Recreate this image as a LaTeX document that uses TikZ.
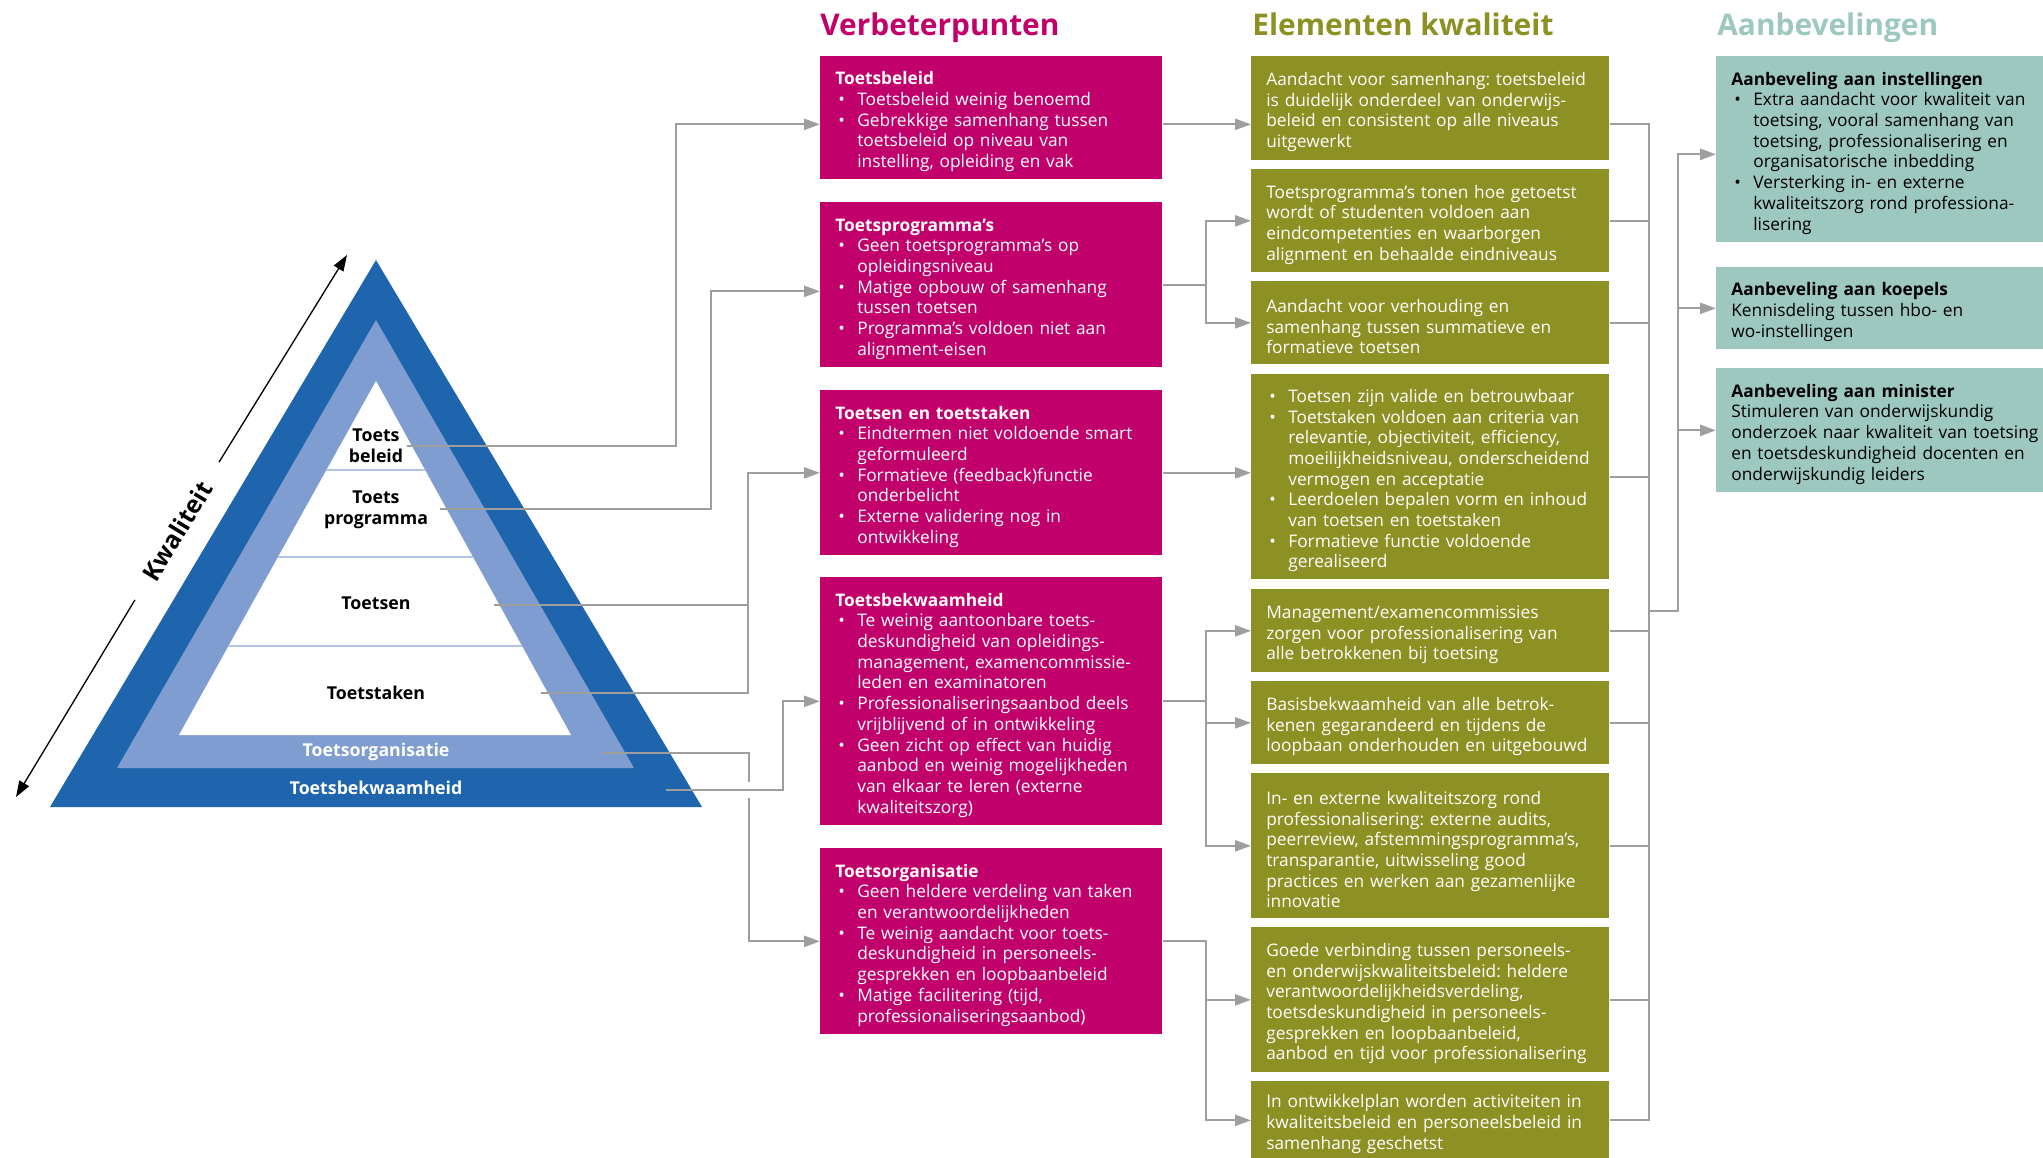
\documentclass[tikz,border=0pt]{standalone}
\usepackage{fontspec}
\setmainfont{Open Sans}
\usepackage{tikz}
\usetikzlibrary{arrows.meta,positioning,calc}
\definecolor{pyrdark}{HTML}{1F65AD}
\definecolor{pyrlight}{HTML}{7F9DD0}
\definecolor{verbred}{HTML}{C1006B}
\definecolor{elemgreen}{HTML}{8D9124}
\definecolor{advteal}{HTML}{9DC8BF}
\definecolor{linegray}{HTML}{9E9E9E}
\frenchspacing
\newcommand{\boxfont}{\fontsize{9.85}{11.78}\selectfont}
\newcommand{\itm}[1]{{\leftskip=0.44cm\noindent\llap{\makebox[0.44cm][l]{\hspace{0.06cm}\textbullet}}#1\par}}

\begin{document}
\begin{tikzpicture}[x=0.02cm,y=-0.02cm,
  >={Triangle[length=9.1pt,width=6.3pt]},
  conn/.style={draw=linegray,line width=1.25pt},
  kwline/.style={draw=black,line width=0.75pt},
  coltitle/.style={anchor=base west,inner sep=0pt,font=\fontsize{17}{19}\selectfont\bfseries},
  textbox/.style={rectangle,anchor=north west,inner xsep=0.3cm,inner ysep=0pt,align=left,font=\boxfont,execute at begin node={\rule{0pt}{11.8pt}}},
  vbox/.style={textbox,fill=verbred,text=white,text width=6.24cm},
  ebox/.style={textbox,fill=elemgreen,text=white,text width=6.56cm},
  abox/.style={textbox,fill=advteal,text=black,text width=6.4cm},
  pyrlabel/.style={inner sep=0pt,align=center,font=\fontsize{10.1}{11.78}\selectfont\bfseries}]
  \useasboundingbox (0,0) rectangle (2043,1157);

  % Pyramid
  \fill[pyrdark] (376,260) -- (702,807) -- (50,807) -- cycle;
  \fill[pyrlight] (376,320) -- (634,768) -- (117,768) -- cycle;
  \fill[white] (376,381) -- (571,735) -- (179,735) -- cycle;
  \begin{scope}
    \clip (376,381) -- (571,735) -- (179,735) -- cycle;
    \foreach \yy in {470,557,646}
      \draw[pyrlight!60,line width=0.85pt] (100,\yy) -- (650,\yy);
  \end{scope}
  \node[pyrlabel] (lbeleid) at (376,446) {Toets\\beleid};
  \node[pyrlabel] (lprog) at (376,510) {Toets\\programma};
  \node[pyrlabel] (lsen) at (376,603) {Toetsen};
  \node[pyrlabel] (ltaken) at (376,693) {Toetstaken};
  \node[pyrlabel,text=white] (lorg) at (376,752) {Toetsorganisatie};
  \node[pyrlabel,text=white] (lbekw) at (376,788) {Toetsbekwaamheid};

  % Kwaliteit axis
  \coordinate (kwtop) at (347,255);
  \coordinate (kwbot) at (16,797);
  \node[rotate=58.6,inner xsep=0.5cm,inner ysep=0pt,font=\fontsize{14}{16}\selectfont\bfseries] (kwal) at (177,531) {Kwaliteit};
  \draw[kwline,->] (kwal.east) -- (kwtop);
  \draw[kwline,->] (kwal.west) -- (kwbot);

  % Column titles
  \node[coltitle,text=verbred] (tverb) at (820,35) {Verbeterpunten};
  \node[coltitle,text=elemgreen] (telem) at (1252,35) {Elementen kwaliteit};
  \node[coltitle,text=advteal] (tadv) at (1717,35) {Aanbevelingen};

  % Verbeterpunten
  \node[vbox,minimum height=2.46cm] (vp1) at (820,56) {\textbf{Toetsbeleid}\par
    \itm{Toetsbeleid weinig benoemd}
    \itm{Gebrekkige samenhang tussen\\toetsbeleid op niveau van\\instelling, opleiding en vak}};
  \node[vbox,minimum height=3.3cm] (vp2) at (820,202) {\textbf{Toetsprogramma’s}\par
    \itm{Geen toetsprogramma’s op\\opleidingsniveau}
    \itm{Matige opbouw of samenhang\\tussen toetsen}
    \itm{Programma’s voldoen niet aan\\alignment-eisen}};
  \node[vbox,minimum height=3.3cm] (vp3) at (820,390) {\textbf{Toetsen en toetstaken}\par
    \itm{Eindtermen niet voldoende smart\\geformuleerd}
    \itm{Formatieve (feedback)functie\\onderbelicht}
    \itm{Externe validering nog in\\ontwikkeling}};
  \node[vbox,minimum height=4.96cm] (vp4) at (820,577) {\textbf{Toetsbekwaamheid}\par
    \itm{Te weinig aantoonbare toets-\\deskundigheid van opleidings-\\management, examencommissie-\\leden en examinatoren}
    \itm{Professionaliseringsaanbod deels\\vrijblijvend of in ontwikkeling}
    \itm{Geen zicht op effect van huidig\\aanbod en weinig mogelijkheden\\van elkaar te leren (externe\\kwaliteitszorg)}};
  \node[vbox,minimum height=3.72cm] (vp5) at (820,848) {\textbf{Toetsorganisatie}\par
    \itm{Geen heldere verdeling van taken\\en verantwoordelijkheden}
    \itm{Te weinig aandacht voor toets-\\deskundigheid in personeels-\\gesprekken en loopbaanbeleid}
    \itm{Matige facilitering (tijd,\\professionaliseringsaanbod)}};

  % Elementen kwaliteit
  \node[ebox,minimum height=2.08cm] (ek1) at (1251,56) {Aandacht voor samenhang: toetsbeleid\\is duidelijk onderdeel van onderwijs-\\beleid en consistent op alle niveaus\\uitgewerkt};
  \node[ebox,minimum height=2.06cm] (ek2) at (1251,169) {Toetsprogramma’s tonen hoe getoetst\\wordt of studenten voldoen aan\\eindcompetenties en waarborgen\\alignment en behaalde eindniveaus};
  \node[ebox,minimum height=1.66cm] (ek3) at (1251,281) {Aandacht voor verhouding en\\samenhang tussen summatieve en\\formatieve toetsen};
  \node[ebox,minimum height=4.1cm] (ek4) at (1251,374) {\itm{Toetsen zijn valide en betrouwbaar}
    \itm{Toetstaken voldoen aan criteria van\\relevantie, objectiviteit, efficiency,\\moeilijkheidsniveau, onderscheidend\\vermogen en acceptatie}
    \itm{Leerdoelen bepalen vorm en inhoud\\van toetsen en toetstaken}
    \itm{Formatieve functie voldoende\\gerealiseerd}};
  \node[ebox,minimum height=1.66cm] (ek5) at (1251,589) {Management/examencommissies\\zorgen voor professionalisering van\\alle betrokkenen bij toetsing};
  \node[ebox,minimum height=1.66cm] (ek6) at (1251,681) {Basisbekwaamheid van alle betrok-\\kenen gegarandeerd en tijdens de\\loopbaan onderhouden en uitgebouwd};
  \node[ebox,minimum height=2.9cm] (ek7) at (1251,773) {In- en externe kwaliteitszorg rond\\professionalisering: externe audits,\\peerreview, afstemmingsprogramma’s,\\transparantie, uitwisseling good\\practices en werken aan gezamenlijke\\innovatie};
  \node[ebox,minimum height=2.9cm] (ek8) at (1251,927) {Goede verbinding tussen personeels-\\en onderwijskwaliteitsbeleid: heldere\\verantwoordelijkheidsverdeling,\\toetsdeskundigheid in personeels-\\gesprekken en loopbaanbeleid,\\aanbod en tijd voor professionalisering};
  \node[ebox,minimum height=1.56cm] (ek9) at (1251,1081) {In ontwikkelplan worden activiteiten in\\kwaliteitsbeleid en personeelsbeleid in\\samenhang geschetst};

  % Aanbevelingen
  \node[abox,minimum height=3.72cm] (ab1) at (1716,56) {\textbf{Aanbeveling aan instellingen}\par
    \itm{Extra aandacht voor kwaliteit van\\toetsing, vooral samenhang van\\toetsing, professionalisering en\\organisatorische inbedding}
    \itm{Versterking in- en externe\\kwaliteitszorg rond professiona-\\lisering}};
  \node[abox,minimum height=1.64cm] (ab2) at (1716,267) {\textbf{Aanbeveling aan koepels}\\Kennisdeling tussen hbo- en\\wo-instellingen};
  \node[abox,minimum height=2.48cm] (ab3) at (1716,368) {\textbf{Aanbeveling aan minister}\\Stimuleren van onderwijskundig\\onderzoek naar kwaliteit van toetsing\\en toetsdeskundigheid docenten en\\onderwijskundig leiders};

  % Pyramid to Verbeterpunten
  \coordinate (cbeleid) at (407,446);
  \coordinate (cprog) at (440,509);
  \coordinate (csen) at (494,605);
  \coordinate (ctaken) at (541,693);
  \coordinate (corg) at (603,753);
  \coordinate (cbekw) at (666,790);
  \draw[conn,->] (cbeleid) -- ++(269,0) |- ([yshift=-3.7pt]vp1.west);
  \draw[conn,->] (cprog) -- ++(271,0) |- ([yshift=-3.7pt]vp2.west);
  \draw[conn] (csen) -- ++(254,0);
  \draw[conn,->] (ctaken) -- ++(207,0) |- (vp3.west);
  \draw[conn,->] (cbekw) -- ++(117,0) |- (vp4.west);
  \draw[conn] (corg) -- ++(146,0) -- ++(0,29);
  \draw[conn,->] (corg) ++(146,45) |- (vp5.west);

  % Verbeterpunten to Elementen
  \coordinate (vp1out) at ([yshift=-3.7pt]vp1.east);
  \draw[conn,->] (vp1out) -- (vp1out -| ek1.west);
  \foreach \n in {2,3}
    \draw[conn,->] (vp2.east) -- ++(43,0) |- (ek\n.west);
  \draw[conn,->] (vp3.east) -- (vp3.east -| ek4.west);
  \foreach \n in {5,6,7}
    \draw[conn,->] (vp4.east) -- ++(43,0) |- (ek\n.west);
  \foreach \n in {8,9}
    \draw[conn,->] (vp5.east) -- ++(43,0) |- (ek\n.west);

  % Elementen to Aanbevelingen
  \draw[conn] (vp1out -| ek1.east) -- ++(39,0) |- (ek9.east);
  \foreach \n in {2,...,8}
    \draw[conn] (ek\n.east) -- ++(39,0);
  \coordinate (advjoin) at (1648,611);
  \draw[conn,->] (advjoin) -- ++(30,0) |- ([yshift=-2.85pt]ab1.west);
  \foreach \n in {2,3}
    \draw[conn,->] (advjoin) -- ++(30,0) |- (ab\n.west);
\end{tikzpicture}
\end{document}
